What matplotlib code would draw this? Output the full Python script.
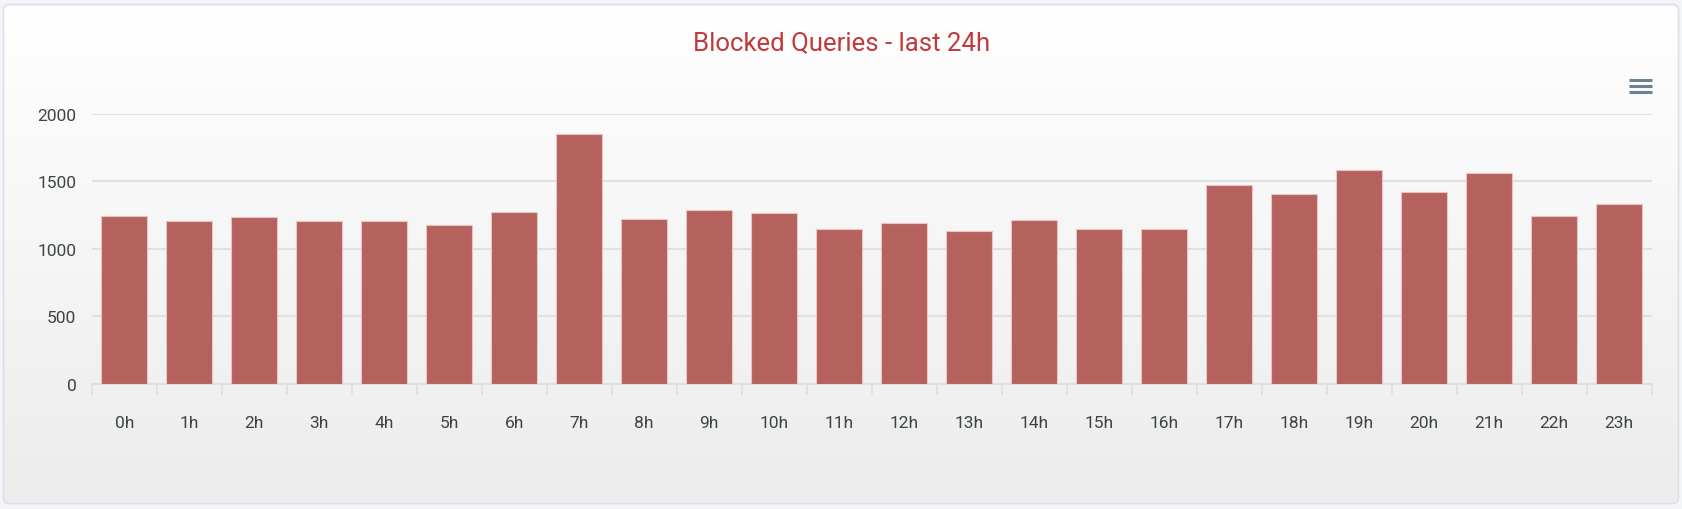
import numpy as np
import matplotlib
matplotlib.use("Agg")
import matplotlib.pyplot as plt
from matplotlib.patches import FancyBboxPatch

hours = [f"{h}h" for h in range(24)]
blocked = [1241, 1207, 1239, 1209, 1205, 1180, 1269, 1853, 1219, 1291,
           1262, 1146, 1192, 1129, 1217, 1146, 1146, 1469, 1409, 1584,
           1424, 1562, 1241, 1330]
y_ticks = [0, 500, 1000, 1500, 2000]

W, H = 1683, 510
plt.rcParams['font.family'] = ['Roboto', 'DejaVu Sans']

fig = plt.figure(figsize=(W / 100, H / 100), dpi=100)
fig.patch.set_facecolor("#f4f5f9")

# background card with vertical gradient
bg = fig.add_axes([0, 0, 1, 1], zorder=-1)
bg.set_xlim(0, W)
bg.set_ylim(H, 0)
bg.axis("off")
card = FancyBboxPatch((3.5, 5.5), 1675, 499, boxstyle="round,pad=0,rounding_size=6",
                      facecolor="none", edgecolor="#dcdfe6", linewidth=1.2, zorder=3)
bg.add_patch(card)
grad = np.linspace(0, 1, 256).reshape(-1, 1)
img = bg.imshow(grad, cmap=matplotlib.colors.LinearSegmentedColormap.from_list(
    "g", ["#ffffff", "#ececec"]), extent=(3.5, 1678.5, 504.5, 5.5), aspect="auto", zorder=1)
img.set_clip_path(card)

# hamburger menu icon
for yy in (81, 87, 93):
    bg.plot([1629, 1652], [yy, yy], color="#6e8192", linewidth=2.2, solid_capstyle="butt", zorder=4)

ax = fig.add_axes([91.7 / W, 1 - 385 / H, 1560 / W, (385 - 114.7) / H])
ax.set_facecolor("none")
x = np.arange(len(hours))
ax.bar(x, blocked, width=0.7, color="#b5615d", edgecolor="#e8c4c2", linewidth=0.8, zorder=3)

ax.set_xlim(-0.5, len(hours) - 0.5)
ax.set_ylim(0, 2000)
ax.set_yticks(y_ticks)
ax.set_yticklabels([str(v) for v in y_ticks])
ax.set_xticks(x)
ax.set_xticklabels(hours)
ax.set_xticks(np.arange(-0.5, len(hours)), minor=True)
ax.tick_params(axis="x", which="major", length=0, pad=22, labelsize=12.5, labelcolor="#3d4446")
ax.tick_params(axis="x", which="minor", length=8, width=1.2, color="#e0e0e0")
ax.tick_params(axis="y", length=0, pad=11, labelsize=12.5, labelcolor="#3d4446")

ax.grid(axis="y", color="#e0e0e0", linewidth=1.5, zorder=0)
ax.set_axisbelow(True)
for s in ("top", "right", "left"):
    ax.spines[s].set_visible(False)
ax.spines["bottom"].set_color("#e0e0e0")
ax.spines["bottom"].set_linewidth(1.5)

fig.text(0.5, 1 - 43 / H, "Blocked Queries - last 24h", ha="center", va="center",
         fontsize=18.5, color="#c0393b")

fig.savefig("out.png", dpi=100, facecolor=fig.get_facecolor())
